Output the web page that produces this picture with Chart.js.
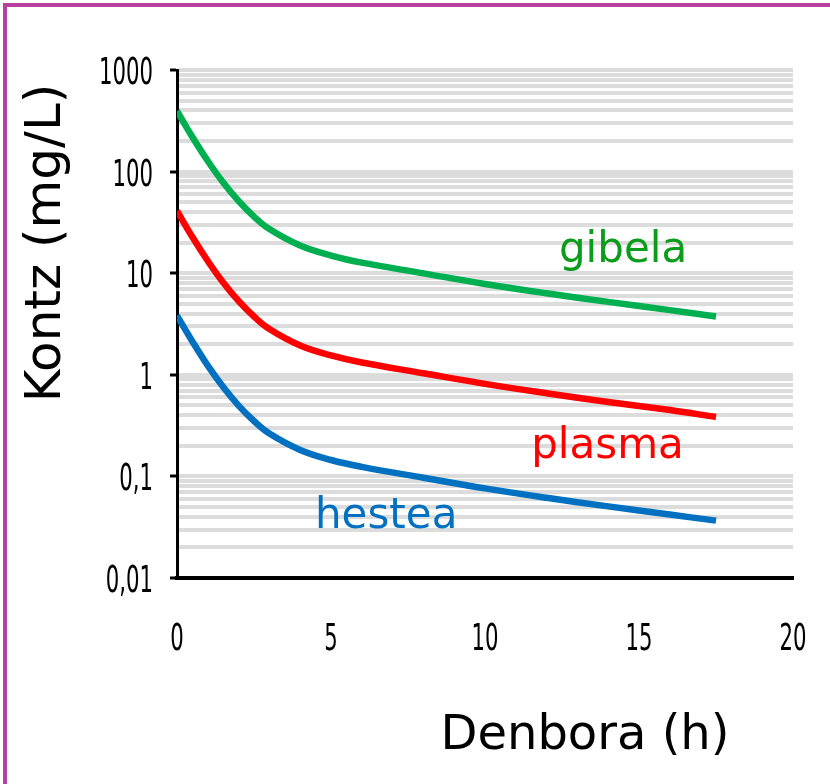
<!DOCTYPE html>
<html>
<head>
<meta charset="utf-8">
<script src="https://cdn.jsdelivr.net/npm/chart.js@4"></script>
<style>
  html, body { margin: 0; padding: 0; background: #fff; overflow: hidden; }
  #wrap { position: relative; width: 830px; height: 784px; }
  #frame { position: absolute; left: 3px; top: 3px; width: 900px; height: 900px; border: 4px solid #b8419e; box-sizing: border-box; }
  canvas { position: absolute; left: 0; top: 0; }
</style>
</head>
<body>
<div id="wrap">
  <div id="frame"></div>
  <canvas id="chart" width="830" height="784"></canvas>
</div>
<script>
// Denbora (h)
const times = [0, 0.5, 1, 1.5, 2, 2.5, 3, 4, 5, 6, 8, 10, 12, 14, 16, 17.5];
// Kontz (mg/L)
const gibela = [395, 219, 127, 78, 51.3, 36.1, 27.2, 18.7, 14.9, 12.7, 9.97, 7.84, 6.34, 5.22, 4.33, 3.75];
const plasma = [41, 22.7, 13.2, 8.1, 5.32, 3.75, 2.82, 1.94, 1.55, 1.32, 1.035, 0.814, 0.658, 0.541, 0.45, 0.385];
const hestea = [3.83, 2.13, 1.23, 0.758, 0.498, 0.351, 0.264, 0.182, 0.145, 0.124, 0.097, 0.0762, 0.0616, 0.0507, 0.0421, 0.0367];

const xTicks = [0, 5, 10, 15, 20];
const xLabels = ['0', '5', '10', '15', '20'];
const yMajor = [0.01, 0.1, 1, 10, 100, 1000];
const yLabels = ['0,01', '0,1', '1', '10', '100', '1000'];

const tickFamily = "'DejaVu Sans Condensed', 'DejaVu Sans', sans-serif";
const textFamily = "'DejaVu Sans', Verdana, sans-serif";

// gridlines at 1..9 x 10^n
const yGrid = [];
yMajor.forEach((m, i) => {
  if (i === yMajor.length - 1) { yGrid.push(m); return; }
  for (let k = 1; k <= 9; k++) yGrid.push(+(m * k).toPrecision(3));
});

const toPoints = arr => arr.map((v, i) => ({ x: times[i], y: v }));

// narrow tick labels like the original (squeezed horizontally)
const tickPlugin = {
  id: 'tickLabels',
  afterDraw(chart) {
    const { ctx, scales } = chart;
    const squeeze = 0.62;
    ctx.save();
    ctx.fillStyle = '#000';
    ctx.font = '38px ' + tickFamily;
    ctx.textBaseline = 'alphabetic';
    yMajor.forEach((v, i) => {
      ctx.save();
      ctx.translate(scales.y.right - 24, scales.y.getPixelForValue(v) + 14);
      ctx.scale(squeeze, 1);
      ctx.textAlign = 'right';
      ctx.fillText(yLabels[i], 0, 0);
      ctx.restore();
    });
    xTicks.forEach((v, i) => {
      ctx.save();
      ctx.translate(scales.x.getPixelForValue(v), scales.x.top + 72);
      ctx.scale(squeeze, 1);
      ctx.textAlign = 'center';
      ctx.fillText(xLabels[i], 0, 0);
      ctx.restore();
    });
    ctx.restore();
  }
};

const textPlugin = {
  id: 'texts',
  afterDraw(chart) {
    const { ctx, scales } = chart;
    const x = scales.x, y = scales.y;
    ctx.save();
    ctx.font = '42px ' + textFamily;
    ctx.textAlign = 'left';
    ctx.textBaseline = 'alphabetic';
    ctx.fillStyle = '#0c9c1c';
    ctx.fillText('gibela', x.getPixelForValue(12.4), y.getPixelForValue(13));
    ctx.fillStyle = '#ff0000';
    ctx.fillText('plasma', x.getPixelForValue(11.5), y.getPixelForValue(0.152));
    ctx.fillStyle = '#0070c0';
    ctx.fillText('hestea', x.getPixelForValue(4.48), y.getPixelForValue(0.031));

    // axis titles
    ctx.fillStyle = '#000';
    ctx.font = '48px ' + textFamily;
    ctx.textAlign = 'center';
    ctx.textBaseline = 'middle';
    ctx.fillText('Denbora (h)', 585, 737);
    ctx.font = '50px ' + textFamily;
    ctx.translate(47, 243);
    ctx.rotate(-Math.PI / 2);
    ctx.fillText('Kontz (mg/L)', 0, 0);
    ctx.restore();
  }
};

const ctx = document.getElementById('chart').getContext('2d');
const chart = new Chart(ctx, {
  type: 'line',
  data: {
    datasets: [
      { label: 'gibela', data: toPoints(gibela), borderColor: '#00b050' },
      { label: 'plasma', data: toPoints(plasma), borderColor: '#ff0000' },
      { label: 'hestea', data: toPoints(hestea), borderColor: '#0070c0' }
    ]
  },
  options: {
    responsive: false,
    maintainAspectRatio: false,
    animation: false,
    layout: { padding: { top: 70, right: 37, left: 0, bottom: 0 } },
    elements: {
      line: { borderWidth: 6.5, tension: 0.4, borderCapStyle: 'butt', borderJoinStyle: 'round', fill: false },
      point: { radius: 0 }
    },
    plugins: {
      legend: { display: false },
      tooltip: { enabled: false }
    },
    scales: {
      x: {
        type: 'linear',
        min: 0,
        max: 20,
        afterFit: s => { s.height = 206; },
        afterBuildTicks: s => { s.ticks = xTicks.map(v => ({ value: v })); },
        grid: { display: true, drawOnChartArea: false, drawTicks: false },
        border: { display: true, color: '#000', width: 4 },
        ticks: { display: false }
      },
      y: {
        type: 'logarithmic',
        min: 0.01,
        max: 1000,
        afterFit: s => { s.width = 177; },
        afterBuildTicks: s => { s.ticks = yGrid.map(v => ({ value: v, major: yMajor.includes(v) })); },
        grid: {
          display: true,
          lineWidth: 4,
          color: c => (c.tick && c.tick.value === 0.01) ? 'rgba(0,0,0,0)' : '#dcdcdc',
          tickLength: 7,
          tickWidth: 3,
          tickColor: c => (c.tick && yMajor.includes(c.tick.value)) ? '#000' : 'rgba(0,0,0,0)'
        },
        border: { display: true, color: '#000', width: 3 },
        ticks: { display: false }
      }
    }
  },
  plugins: [tickPlugin, textPlugin]
});
</script>
</body>
</html>
